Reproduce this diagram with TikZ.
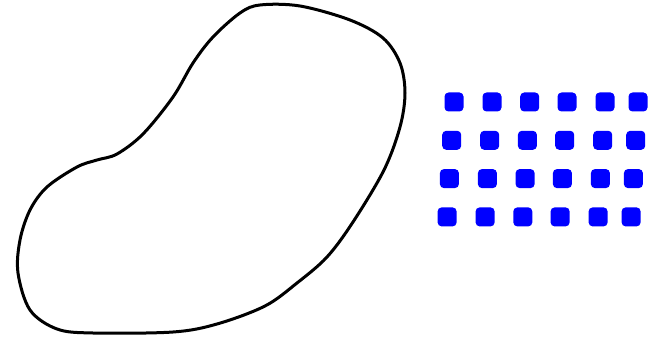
\documentclass[tikz,border=0pt]{standalone}
\usepackage{tikz}
\usetikzlibrary{positioning}

\begin{document}
\begin{tikzpicture}[x=1pt, y=-1pt,
    blob/.style={draw=black, line width=3pt, line join=round},
    dot/.style={rectangle, rounded corners=4pt, fill=blue, inner sep=0pt, minimum size=19pt}]
    \useasboundingbox (0,0) rectangle (662,342);

    \draw[blob] plot[smooth cycle, tension=0.55] coordinates {
        (260,5) (300,6) (350,20) (383,38) (400,63) (405,93) (400,127)
        (384,170) (353,222) (327,257) (297,283) (265,306)
        (217,324) (173,332) (93,333) (57,329) (30,310) (18,273) (20,240)
        (30,210) (47,187) (77,167) (97,160) (117,154) (143,134) (173,97)
        (193,63) (213,37) (240,13)};

    \foreach \r in {0,...,3}
        \foreach \c/\dx in {0/0, 1/38, 2/75.7, 3/113, 4/151, 5/184}
            \node[dot] (d-\r-\c) at ({454 - 2.3*\r + \dx}, {102 + 38.3*\r}) {};
\end{tikzpicture}
\end{document}
